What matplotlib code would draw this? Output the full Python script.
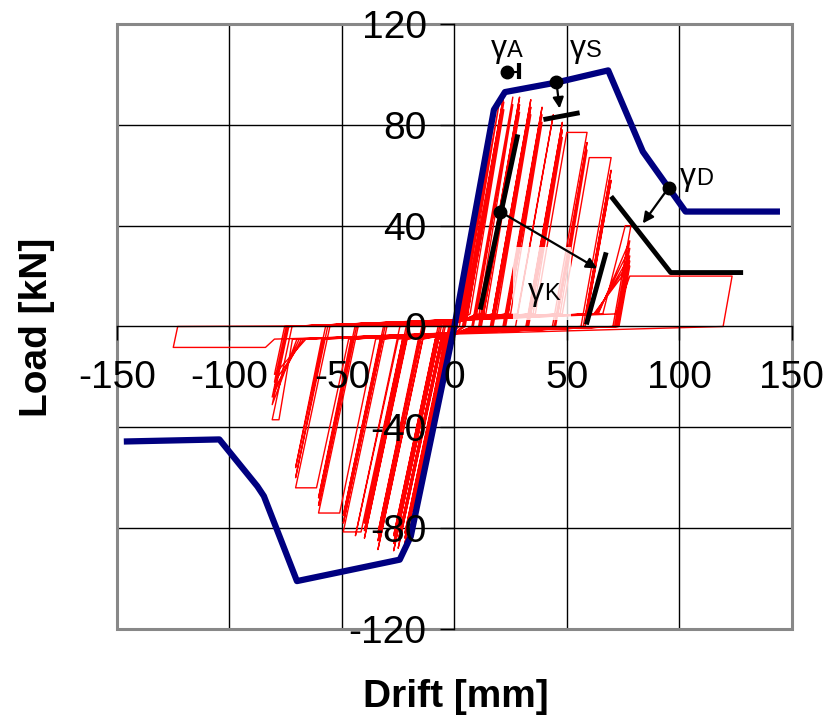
import matplotlib
matplotlib.use("Agg")
import matplotlib.pyplot as plt
from matplotlib.patches import Rectangle

plt.rcParams['font.family'] = ['Liberation Sans', 'DejaVu Sans']
plt.rcParams['axes.unicode_minus'] = False

# backbone envelope (blue)
env_x = [-145.6, -104.5, -87.6, -84.7, -70.0, -24.3, -19.4, 0.0, 17.6, 22.5, 45.4, 68.4, 83.8, 94.8, 102.8, 143.4]
env_y = [-45.6, -44.8, -63.4, -67.3, -101.0, -92.5, -83.3, 0.0, 86.0, 93.0, 96.8, 101.6, 69.4, 55.6, 45.6, 45.6]

# hysteresis cycles (one entry per cycle)
# positive half: start of steep branch, start of top, peak drift, peak load
p_base = [0.3, 0.5, 1, 1.5, 2, 2.5, 3, 3.5, 4, 4.5,
          5, 6, 7, 10, 11, 12, 13, 14, 17, 18, 19, 23, 24, 25, 28,
          33, 34, 35, 36, 46, 47, 48, 58.5, 59, 66, 64, 63.5, 63, 62.5, 62, 72]
p_top = [2, 4, 6, 8, 10, 12, 14, 16, 18, 20,
         22, 22, 22, 26, 26, 29, 29, 29, 34, 34, 34, 39, 39, 39, 44,
         48, 48, 48, 50, 59, 59, 60, 69.7, 69.7, 76, 78, 78, 78, 78, 78, 78]
p_x = [2, 4, 6, 8, 10, 12, 14, 16, 18, 20,
       22, 22, 22, 26, 26, 29, 29, 29, 34, 34, 34, 39, 39, 39, 44,
       48, 48, 48, 59, 59, 59, 69.7, 69.7, 69.7, 78.5, 78, 78, 78, 78, 78, 123.5]
p_y = [9, 19, 28, 38, 48, 57, 67, 76, 84, 89,
       92, 89, 86, 91, 88, 91, 88, 85, 90, 87, 84, 87, 84, 81, 84,
       81, 78, 75, 77, 73, 70, 67, 62, 58, 40, 34, 31, 28, 26, 24, 20]
# negative half
n_base = [-0.3, -0.5, -1, -1.5, -2, -2.5, -3, -3.5, -4, -4.5,
          -3, -3.5, -4, -5, -6, -7, -7.7, -8.5, -14, -15, -16, -21, -22, -23, -25,
          -23, -32, -33, -35, -45, -46, -47, -58, -59, -72, -70, -69, -68, -67, -66, -80]
n_top = [-2, -4, -6, -8, -10, -12, -14, -16, -18, -20,
         -22, -22, -22, -25, -25, -27, -27, -27, -34, -34, -34, -40, -40, -40, -44,
         -41.5, -49.4, -49.4, -51, -60.4, -60.4, -61.3, -70.6, -70.6, -78, -81, -81, -80, -80, -80, -84]
n_x = [-2, -4, -6, -8, -10, -12, -14, -16, -18, -20,
       -22, -22, -22, -25, -25, -27, -27, -27, -34, -34, -34, -40, -40, -40, -44,
       -49.4, -49.4, -49.4, -60.4, -60.4, -60.4, -70.6, -70.6, -70.6, -81, -81, -81, -80, -80, -80, -125]
n_y = [-8, -17, -25, -34, -42, -51, -59, -67, -75, -82,
       -86, -84, -82, -88, -85, -89, -86, -83, -88.5, -85, -82, -84, -81, -78, -83,
       -81.5, -78, -75, -74, -71, -68, -64, -60, -56, -37, -31, -28, -25, -22, -19, -8.3]
end_x, end_y = [0.0], [0.5]

k_unload_pos = 5.0   # kN/mm, slope of unloading branches
k_unload_neg = 4.2
pinch_pos = 5.0
pinch_neg = -5.0

# damage index construction lines
gA_dot = (23.4, 101.0)
gS_dot = (45.4, 96.8)
gS_arrow_end = (46.8, 86.5)
gS_line_x, gS_line_y = [39.6, 55.7], [82.1, 84.8]
gD_dot = (95.3, 55.1)
gD_arrow_end = (83.8, 40.9)
gD_line_x, gD_line_y = [69.7, 96.2, 128.4], [51.6, 21.4, 21.4]
gK_dot = (20.3, 45.6)
gK_arrow_end = (63.5, 23.0)
gK_line1_x, gK_line1_y = [11.5, 28.2], [6.7, 76.2]
gK_line2_x, gK_line2_y = [58.7, 67.5], [0.8, 29.4]

# build hysteresis path
hx, hy = [0.0], [0.0]
for i in range(len(p_x)):
    hx += [p_base[i], p_top[i], p_x[i], p_x[i] - p_y[i] / k_unload_pos]
    hy += [pinch_pos, p_y[i], p_y[i], 0.0]
    hx += [n_base[i], n_top[i], n_x[i], n_x[i] - n_y[i] / k_unload_neg]
    hy += [pinch_neg, n_y[i], n_y[i], 0.0]
hx += end_x
hy += end_y

fig = plt.figure(figsize=(8.36, 7.19), dpi=100)
ax = fig.add_axes([0.14, 0.1252, 0.807, 0.8414])
ax.set_xlim(-150, 150)
ax.set_ylim(-120, 120)

for gx in [-100, -50, 50, 100]:
    ax.axvline(gx, color='black', lw=1.0, zorder=0.5)
for gy in [-80, -40, 40, 80]:
    ax.axhline(gy, color='black', lw=1.0, zorder=0.5)

ax.plot(hx, hy, color='red', lw=1.0, zorder=2)
ax.plot(env_x, env_y, color='#000080', lw=4.5, solid_joinstyle='round', zorder=4)

ax.add_patch(Rectangle((26.0, 2.5), 26.0, 29.0, facecolor='white', alpha=0.8,
                       edgecolor='none', zorder=3))

blk = dict(color='black', zorder=5, solid_capstyle='butt')
ax.plot(gS_line_x, gS_line_y, lw=3.5, **blk)
ax.plot(gD_line_x, gD_line_y, lw=3.5, **blk)
ax.plot(gK_line1_x, gK_line1_y, lw=3.5, **blk)
ax.plot(gK_line2_x, gK_line2_y, lw=3.5, **blk)
ax.plot([gA_dot[0], gA_dot[0] + 5.5], [gA_dot[1], gA_dot[1]], lw=1.5, **blk)
ax.plot([gA_dot[0] + 5.5, gA_dot[0] + 5.5], [gA_dot[1] - 3, gA_dot[1] + 3.5], lw=3.0, **blk)
for d in [gA_dot, gS_dot, gD_dot, gK_dot]:
    ax.plot(d[0], d[1], 'o', color='black', ms=9, zorder=6)

arr = dict(arrowstyle='-|>', color='black', lw=1.6, mutation_scale=16, shrinkA=0, shrinkB=0)
ax.annotate('', xy=gS_arrow_end, xytext=gS_dot, arrowprops=arr, zorder=6)
ax.annotate('', xy=gD_arrow_end, xytext=gD_dot, arrowprops=arr, zorder=6)
ax.annotate('', xy=gK_arrow_end, xytext=gK_dot, arrowprops=arr, zorder=6)


def gamma_label(x, y, sub):
    ax.text(x, y, 'γ', fontsize=23, va='baseline', ha='left', zorder=7)
    ax.annotate(sub, (x, y), xytext=(11.5, 0), textcoords='offset points',
                fontsize=17, va='baseline', ha='left', zorder=7)


gamma_label(16.3, 107.1, 'A')
gamma_label(51.5, 107.1, 'S')
gamma_label(100.2, 56.3, 'D')
gamma_label(32.6, 10.7, 'K')

# axes through the origin, grey outer frame
for side in ['top', 'right']:
    ax.spines[side].set_visible(False)
for side in ['left', 'bottom']:
    ax.spines[side].set_position(('data', 0))
    ax.spines[side].set_color('black')
    ax.spines[side].set_linewidth(1.0)
    ax.spines[side].set_zorder(6)
ax.add_patch(Rectangle((0, 0), 1, 1, transform=ax.transAxes, fill=False,
                       edgecolor='#888888', lw=2.2, clip_on=False, zorder=6))

ax.set_xticks([-150, -100, -50, 0, 50, 100, 150])
ax.set_yticks([-120, -80, -40, 0, 40, 80, 120])
ax.tick_params(axis='both', direction='out', length=10, width=1.0, labelsize=28)
ax.tick_params(axis='x', pad=14)
ax.tick_params(axis='y', pad=10)
ax.xaxis.set_zorder(7)
ax.yaxis.set_zorder(7)

fig.text(0.545, 0.03, 'Drift [mm]', fontsize=28, fontweight='bold', ha='center', va='center')
fig.text(0.044, 0.545, 'Load [kN]', fontsize=28, fontweight='bold', ha='center', va='center',
         rotation=90)

fig.savefig('out.png', dpi=100)
